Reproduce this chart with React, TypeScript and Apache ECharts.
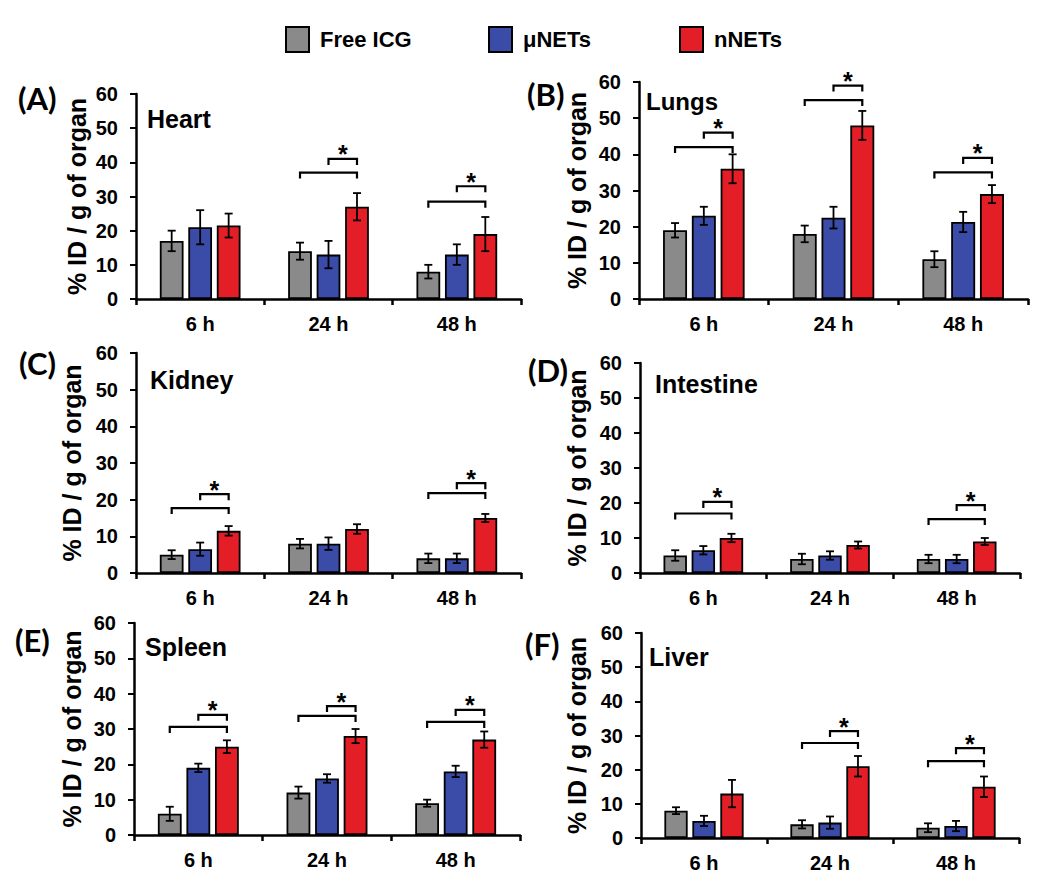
import React, { useEffect, useRef } from "react";
import * as echarts from "echarts";

const timePoints = ["6 h", "24 h", "48 h"];
const groupNames = ["Free ICG", "μNETs", "nNETs"];
const groupColors = ["#8a8a8a", "#3b4ba8", "#e41e26"];
const yTicks = { min: 0, max: 60, interval: 10 };

// Heart
const heartFree = [17, 14, 8];
const heartFreeErr = [3, 2.5, 2];
const heartMicro = [21, 13, 13];
const heartMicroErr = [5, 4, 3];
const heartNano = [21.5, 27, 19];
const heartNanoErr = [3.5, 4, 5];
const heartSig = [[1, 37, 41], [2, 28.5, 33]];

// Lungs
const lungsFree = [19, 18, 11];
const lungsFreeErr = [2, 2.3, 2.2];
const lungsMicro = [23, 22.5, 21.3];
const lungsMicroErr = [2.5, 3, 2.8];
const lungsNano = [36, 48, 29];
const lungsNanoErr = [4, 4, 2.5];
const lungsSig = [[0, 42, 46], [1, 55, 59], [2, 35, 39]];

// Kidney
const kidneyFree = [5, 8, 4];
const kidneyFreeErr = [1.2, 1.3, 1.3];
const kidneyMicro = [6.5, 8, 4];
const kidneyMicroErr = [1.8, 1.7, 1.3];
const kidneyNano = [11.5, 12, 15];
const kidneyNanoErr = [1.3, 1.3, 1.1];
const kidneySig = [[0, 17.7, 21.5], [2, 21.8, 24.5]];

// Intestine
const intestineFree = [5, 4, 4];
const intestineFreeErr = [1.5, 1.5, 1.2];
const intestineMicro = [6.5, 5, 4];
const intestineMicroErr = [1.2, 1.2, 1.2];
const intestineNano = [10, 8, 9];
const intestineNanoErr = [1.2, 1, 1];
const intestineSig = [[0, 17, 20.3], [2, 15.4, 19.4]];

// Spleen
const spleenFree = [6, 12, 9];
const spleenFreeErr = [2, 1.7, 1];
const spleenMicro = [19, 16, 18];
const spleenMicroErr = [1.2, 1.2, 1.6];
const spleenNano = [25, 28, 27];
const spleenNanoErr = [1.8, 2, 2.3];
const spleenSig = [[0, 30.6, 34], [1, 33.7, 36.5], [2, 32, 35.4]];

// Liver
const liverFree = [8, 4, 3];
const liverFreeErr = [1, 1.2, 1.3];
const liverMicro = [5, 4.5, 3.5];
const liverMicroErr = [1.5, 1.8, 1.5];
const liverNano = [13, 21, 15];
const liverNanoErr = [4, 3, 3];
const liverSig = [[1, 27.8, 31.3], [2, 22.5, 26.3]];

const panels = [
  { tag: "(A)", organ: "Heart", vals: [heartFree, heartMicro, heartNano], errs: [heartFreeErr, heartMicroErr, heartNanoErr], sig: heartSig,
    grid: { left: 136, top: 94, width: 385, height: 205 }, nameGap: 47, tagPos: [18, 82], organPos: [147, 106], organSize: 25 },
  { tag: "(B)", organ: "Lungs", vals: [lungsFree, lungsMicro, lungsNano], errs: [lungsFreeErr, lungsMicroErr, lungsNanoErr], sig: lungsSig,
    grid: { left: 639, top: 82, width: 389, height: 217 }, nameGap: 50, tagPos: [527, 78], organPos: [646, 89], organSize: 24 },
  { tag: "(C)", organ: "Kidney", vals: [kidneyFree, kidneyMicro, kidneyNano], errs: [kidneyFreeErr, kidneyMicroErr, kidneyNanoErr], sig: kidneySig,
    grid: { left: 136, top: 353, width: 385, height: 220 }, nameGap: 52, tagPos: [19, 347], organPos: [150, 367], organSize: 25 },
  { tag: "(D)", organ: "Intestine", vals: [intestineFree, intestineMicro, intestineNano], errs: [intestineFreeErr, intestineMicroErr, intestineNanoErr], sig: intestineSig,
    grid: { left: 640, top: 363, width: 380, height: 210 }, nameGap: 51, tagPos: [528, 354], organPos: [655, 371], organSize: 25 },
  { tag: "(E)", organ: "Spleen", vals: [spleenFree, spleenMicro, spleenNano], errs: [spleenFreeErr, spleenMicroErr, spleenNanoErr], sig: spleenSig,
    grid: { left: 134, top: 623, width: 386, height: 212 }, nameGap: 50, tagPos: [15, 624], organPos: [145, 634], organSize: 25 },
  { tag: "(F)", organ: "Liver", vals: [liverFree, liverMicro, liverNano], errs: [liverFreeErr, liverMicroErr, liverNanoErr], sig: liverSig,
    grid: { left: 641, top: 633, width: 378, height: 205 }, nameGap: 52, tagPos: [525, 628], organPos: [649, 644], organSize: 25 },
];

const BAR_FRAC = 0.185;
const GAP_FRAC = 0.2;
const OFFSET = BAR_FRAC * (1 + GAP_FRAC);
const FONT = "'Liberation Sans', Arial, sans-serif";

function buildOption() {
  const xAxis: any[] = [];
  const yAxis: any[] = [];
  const grid: any[] = [];
  const series: any[] = [];
  const title: any[] = [];

  panels.forEach((p, gi) => {
    grid.push({ ...p.grid, containLabel: false });
    xAxis.push({
      type: "category",
      gridIndex: gi,
      data: timePoints,
      axisLine: { lineStyle: { color: "#000", width: 2.5 } },
      axisTick: { show: true, length: 6, lineStyle: { color: "#000", width: 2.5 } },
      axisLabel: { color: "#000", fontSize: 20, fontWeight: "bold", fontFamily: FONT, margin: 15 },
    });
    yAxis.push({
      type: "value",
      gridIndex: gi,
      min: yTicks.min,
      max: yTicks.max,
      interval: yTicks.interval,
      name: "% ID / g of organ",
      nameLocation: "middle",
      nameGap: p.nameGap,
      nameTextStyle: { color: "#000", fontSize: 25, fontWeight: "bold", fontFamily: FONT },
      axisLine: { show: true, lineStyle: { color: "#000", width: 2.5 } },
      axisTick: { show: true, length: 6, lineStyle: { color: "#000", width: 2 } },
      splitLine: { show: false },
      axisLabel: { color: "#000", fontSize: 20, fontWeight: "bold", fontFamily: FONT, margin: 18 },
    });
    title.push({
      text: p.tag, left: p.tagPos[0], top: p.tagPos[1], padding: 0,
      textStyle: { fontSize: 31, fontWeight: "bold", fontFamily: "Lato, 'Open Sans', sans-serif", color: "#000" },
    });
    title.push({
      text: p.organ, left: p.organPos[0], top: p.organPos[1], padding: 0,
      textStyle: { fontSize: p.organSize, fontWeight: "bold", fontFamily: FONT, color: "#000" },
    });

    p.vals.forEach((vals, k) => {
      series.push({
        type: "bar",
        name: groupNames[k],
        xAxisIndex: gi,
        yAxisIndex: gi,
        data: vals,
        barWidth: BAR_FRAC * 100 + "%",
        barGap: GAP_FRAC * 100 + "%",
        itemStyle: { color: groupColors[k], borderColor: "#000", borderWidth: 1.8 },
        z: 2,
      });
    });

    p.vals.forEach((vals, k) => {
      const errData = vals.map((v, i) => [i, v - p.errs[k][i], v + p.errs[k][i]]);
      const off = (k - 1) * OFFSET;
      series.push({
        type: "custom",
        name: groupNames[k] + " error",
        xAxisIndex: gi,
        yAxisIndex: gi,
        data: errData,
        encode: { x: 0, y: [1, 2] },
        clip: false,
        z: 5,
        renderItem: (params: any, api: any) => {
          const cat = api.value(0);
          const lo = api.coord([cat, api.value(1)]);
          const hi = api.coord([cat, api.value(2)]);
          const band = api.size([1, 0])[0];
          const x = lo[0] + off * band;
          const cap = 4;
          const st = { stroke: "#000", lineWidth: 1.8 };
          return {
            type: "group",
            children: [
              { type: "line", shape: { x1: x, y1: lo[1], x2: x, y2: hi[1] }, style: st },
              { type: "line", shape: { x1: x - cap, y1: hi[1], x2: x + cap, y2: hi[1] }, style: st },
              { type: "line", shape: { x1: x - cap, y1: lo[1], x2: x + cap, y2: lo[1] }, style: st },
            ],
          };
        },
      });
    });

    series.push({
      type: "custom",
      name: "significance",
      xAxisIndex: gi,
      yAxisIndex: gi,
      data: p.sig,
      encode: { x: 0, y: [1, 2] },
      clip: false,
      z: 6,
      renderItem: (params: any, api: any) => {
        const cat = api.value(0);
        const pl = api.coord([cat, api.value(1)]);
        const ps = api.coord([cat, api.value(2)]);
        const band = api.size([1, 0])[0];
        const cx = pl[0];
        const gx = cx - OFFSET * band;
        const rx = cx + OFFSET * band;
        const leg = 6;
        const st = { stroke: "#000", lineWidth: 2.2, fill: null };
        return {
          type: "group",
          children: [
            { type: "polyline", shape: { points: [[gx, pl[1] + leg], [gx, pl[1]], [rx, pl[1]], [rx, pl[1] + leg]] }, style: st },
            { type: "polyline", shape: { points: [[cx, ps[1] + leg], [cx, ps[1]], [rx, ps[1]], [rx, ps[1] + leg]] }, style: st },
            {
              type: "text",
              style: {
                text: "*", x: (cx + rx) / 2, y: ps[1] + 8, align: "center", verticalAlign: "bottom",
                fontSize: 25, fontWeight: "bold", fontFamily: FONT, fill: "#000",
              },
            },
          ],
        };
      },
    });
  });

  const legendLefts = [285, 488, 679];
  const legend = groupNames.map((n, k) => ({
    data: [n],
    left: legendLefts[k],
    top: 26,
    padding: 0,
    itemWidth: 23,
    itemHeight: 25,
    itemGap: 0,
    icon: "rect",
    selectedMode: false,
    itemStyle: { borderColor: "#000", borderWidth: 2 },
    textStyle: { fontSize: 22, fontWeight: "bold", fontFamily: FONT, color: "#000", padding: [0, 0, 0, 6] },
  }));

  return {
    animation: false,
    backgroundColor: "#fff",
    title,
    legend,
    grid,
    xAxis,
    yAxis,
    series,
  };
}

export default function App() {
  const ref = useRef<HTMLDivElement>(null);
  useEffect(() => {
    if (!ref.current) return;
    const chart = echarts.init(ref.current, undefined, { renderer: "svg" });
    chart.setOption(buildOption() as any);
    return () => chart.dispose();
  }, []);
  return (
    <div
      ref={ref}
      style={{ position: "fixed", left: 0, top: 0, width: 1050, height: 890, background: "#fff" }}
    />
  );
}
